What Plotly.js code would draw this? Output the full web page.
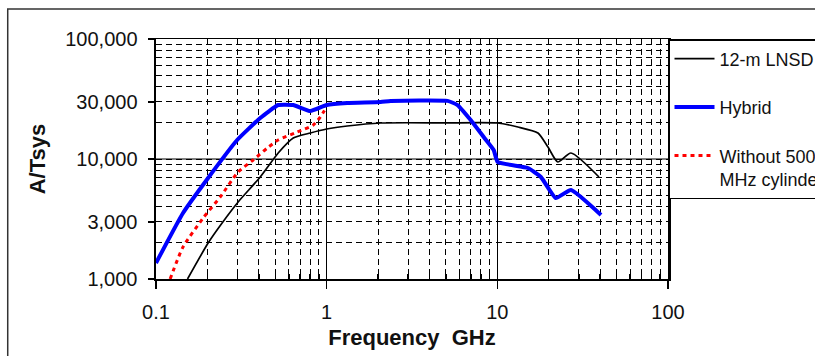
<!DOCTYPE html>
<html>
<head>
<meta charset="utf-8">
<script src="https://cdn.plot.ly/plotly-3.0.1.min.js"></script>
<style>html,body{margin:0;padding:0;background:#fff;}#chart{width:815px;height:356px;}</style>
</head>
<body>
<div id="chart"></div>
<script>
// ---- data ----
const freqLNSD = [0.153, 0.202, 0.244, 0.303, 0.408, 0.52, 0.637, 0.802, 1.0, 1.32, 2.07, 5.0, 10.0, 13.2, 17.3, 19.8, 22.6, 27.0, 39.4];
const valsLNSD = [1000, 1995, 2930, 4385, 7080, 11220, 14960, 16480, 17780, 18840, 19950, 20000, 19950, 18480, 16480, 12590, 9440, 11220, 7080];

const freqHybrid = [0.1, 0.144, 0.202, 0.299, 0.408, 0.52, 0.637, 0.802, 1.0, 1.32, 2.07, 2.37, 5.11, 5.85, 6.98, 8.32, 9.52, 10.05, 15.1, 18.0, 22.0, 27.0, 40.5];
const valsHybrid = [1360, 3548, 6950, 14400, 21960, 28180, 28180, 25120, 28180, 29290, 29850, 30500, 30500, 28180, 21130, 15250, 11890, 9440, 8410, 7080, 4730, 5520, 3420];

const freqNo500 = [0.121, 0.144, 0.189, 0.238, 0.303, 0.371, 0.449, 0.52, 0.673, 0.835, 0.918, 1.0];
const valsNo500 = [1000, 1848, 3225, 4830, 7800, 9810, 12360, 14400, 16790, 19190, 22390, 27120];

const seriesNames = ['12-m LNSD', 'Hybrid', 'Without 500<br>MHz cylinder'];

const xTickVals = [0.1, 1, 10, 100];
const xTickText = ['0.1', '1', '10', '100'];
const xMinorVals = [0.2,0.3,0.4,0.5,0.6,0.7,0.8,0.9, 2,3,4,5,6,7,8,9, 20,30,40,50,60,70,80,90];
const yTickVals = [1000, 3000, 10000, 30000, 100000];
const yTickText = ['1,000', '3,000', '10,000', '30,000', '100,000'];
const yMinorVals = [2000,4000,5000,6000,7000,8000,9000, 20000,40000,50000,60000,70000,80000,90000];

const FONT = 'Liberation Sans, Arial, sans-serif';
const DASH = '6px,4px';

const traces = [
  {x: freqLNSD, y: valsLNSD, name: seriesNames[0], mode: 'lines', legendgroup: 'a',
   line: {color: '#000000', width: 1.7, shape: 'spline', smoothing: 0.6}},
  {x: freqHybrid, y: valsHybrid, name: seriesNames[1], mode: 'lines', legendgroup: 'b',
   line: {color: '#0000ff', width: 4, shape: 'spline', smoothing: 0.4}},
  {x: freqNo500, y: valsNo500, name: seriesNames[2], mode: 'lines', legendgroup: 'c',
   line: {color: '#ff0000', width: 3, dash: '4px,4px', shape: 'spline', smoothing: 0.6}}
];

const layout = {
  width: 815, height: 356,
  paper_bgcolor: '#ffffff', plot_bgcolor: '#ffffff',
  margin: {l: 156, r: 147, t: 39, b: 77, autoexpand: false},
  font: {family: FONT, color: '#111', size: 18},
  showlegend: true,
  xaxis: {
    type: 'log', range: [-1, 2],
    tickmode: 'array', tickvals: xTickVals, ticktext: xTickText,
    ticks: 'outside', ticklen: 8, tickwidth: 1.5, tickcolor: '#000',
    tickfont: {size: 20, family: FONT, color: '#111'},
    ticklabelstandoff: 6,
    showline: true, linecolor: '#000', linewidth: 1.5, mirror: true,
    showgrid: true, gridcolor: '#000', gridwidth: 1,
    zeroline: false,
    minor: {tickmode: 'array', tickvals: xMinorVals, ticks: 'inside', ticklen: 5, tickcolor: '#000',
            showgrid: true, gridcolor: '#000', gridwidth: 1, griddash: DASH},
    title: {text: 'Frequency\u00a0 GHz', font: {size: 22, family: FONT, weight: 'bold', color: '#111'}, standoff: 8}
  },
  yaxis: {
    type: 'log', range: [3, 5],
    tickmode: 'array', tickvals: yTickVals, ticktext: yTickText,
    ticks: 'outside', ticklen: 6, tickwidth: 1.5, tickcolor: '#000',
    tickfont: {size: 20, family: FONT, color: '#111'},
    ticklabelstandoff: 6,
    showline: true, linecolor: '#000', linewidth: 2.5, mirror: true,
    showgrid: true, gridcolor: '#000', gridwidth: 1, griddash: DASH,
    zeroline: false,
    minor: {tickmode: 'array', tickvals: yMinorVals, ticks: '',
            showgrid: true, gridcolor: '#000', gridwidth: 1, griddash: DASH},
    title: {text: 'A/Tsys', font: {size: 22, family: FONT, weight: 'bold', color: '#111'}, standoff: 14}
  },
  legend: {
    x: 1, xanchor: 'left', xref: 'paper',
    y: 1.0, yanchor: 'top', yref: 'paper',
    bgcolor: '#ffffff', bordercolor: '#000', borderwidth: 1.5,
    font: {size: 18, family: FONT, color: '#111'},
    traceorder: 'grouped', tracegroupgap: 22, valign: 'top',
    itemwidth: 40
  },
  shapes: [
    // solid major gridline at 10,000
    {type: 'line', xref: 'paper', x0: 0, x1: 1, yref: 'y', y0: 10000, y1: 10000,
     line: {color: '#000', width: 1.2}, layer: 'below'},
    // outer frame of the figure
    {type: 'rect', xref: 'paper', yref: 'paper', x0: -0.2896, x1: 1.35, y0: -0.40, y1: 1.125,
     line: {color: '#333', width: 1.5}, fillcolor: 'rgba(0,0,0,0)', layer: 'below'}
  ]
};

Plotly.newPlot('chart', traces, layout, {staticPlot: true, displayModeBar: false});
</script>
</body>
</html>
